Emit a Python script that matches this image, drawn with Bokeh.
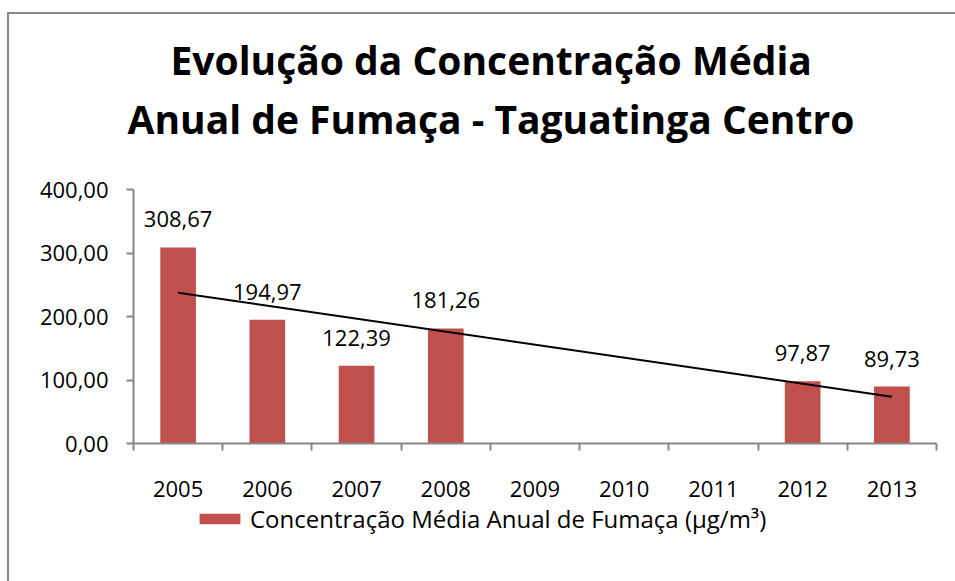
import numpy as np
from bokeh.plotting import figure
from bokeh.layouts import column
from bokeh.models import (FixedTicker, Title, Legend, LegendItem,
                          ColumnDataSource, Range1d)
from bokeh.embed import file_html
from bokeh.resources import INLINE

# ---- data ----
years = ["2005", "2006", "2007", "2008", "2009", "2010", "2011", "2012", "2013"]
concentration = [308.67, 194.97, 122.39, 181.26, None, None, None, 97.87, 89.73]
y_ticks = [0, 100, 200, 300, 400]
y_tick_labels = ["0,00", "100,00", "200,00", "300,00", "400,00"]
title_lines = ["Evolução da Concentração Média", "Anual de Fumaça - Taguatinga Centro"]
series_name = "Concentração Média Anual de Fumaça (µg/m³)"

FONT = "Open Sans"
BAR = "#C0504D"
AXIS = "#868686"
W = 946

centers = [i + 0.5 for i in range(len(years))]
bx = [c for c, v in zip(centers, concentration) if v is not None]
bv = [v for v in concentration if v is not None]
blab = [f"{v:.2f}".replace(".", ",") for v in bv]
src = ColumnDataSource(dict(x=bx, top=bv, lab=blab))

# linear trend over the plotted (non-empty) points, like Excel's trendline
k = np.array([i + 1 for i, v in enumerate(concentration) if v is not None], float)
slope, icpt = np.polyfit(k, np.array(bv), 1)
tx = [centers[0], centers[-1]]
ty = [slope * 1 + icpt, slope * len(years) + icpt]

p = figure(width=W, height=487, x_range=Range1d(0, len(years)),
           y_range=Range1d(0, 400), output_backend="svg",
           toolbar_location=None, title=None,
           min_border_left=124, min_border_right=19,
           min_border_top=175, min_border_bottom=58)
p.outline_line_color = None
p.xgrid.visible = False
p.ygrid.visible = False

bars = p.vbar(x="x", top="top", width=0.4, source=src, fill_color=BAR, line_color=None)
p.line(tx, ty, line_color="black", line_width=2)
p.text(x="x", y="top", text="lab", source=src, text_align="center",
       text_baseline="alphabetic", y_offset=-28, text_font={"value": FONT},
       text_font_size="22px", text_color="black")

# axes
p.yaxis.ticker = FixedTicker(ticks=y_ticks)
p.yaxis.major_label_overrides = dict(zip(y_ticks, y_tick_labels))
p.yaxis.major_tick_out = 7
p.yaxis.major_tick_in = 0
p.yaxis.minor_tick_out = 0
p.yaxis.minor_tick_in = 0
p.yaxis.major_label_standoff = 18
p.xaxis.ticker = FixedTicker(ticks=centers, minor_ticks=list(range(len(years) + 1)))
p.xaxis.major_label_overrides = dict(zip(centers, years))
p.xaxis.major_tick_out = 0
p.xaxis.major_tick_in = 0
p.xaxis.minor_tick_out = 7
p.xaxis.minor_tick_in = 0
p.xaxis.major_label_standoff = 30
for ax in (p.xaxis, p.yaxis):
    ax.axis_line_color = AXIS
    ax.axis_line_width = 2
    ax.major_tick_line_color = AXIS
    ax.major_tick_line_width = 2
    ax.minor_tick_line_color = AXIS
    ax.minor_tick_line_width = 2
    ax.major_label_text_font = FONT
    ax.major_label_text_font_size = "22px"
    ax.major_label_text_color = "black"

# titles (first added sits closest to the frame); a blank spacer keeps them up
spacer = Title(text=" ", text_font_size="1px", standoff=38)
t2 = Title(text=title_lines[1], align="left", text_font=FONT, text_font_size="39px",
           text_font_style="bold", text_color="black", standoff=8, offset=-6)
t1 = Title(text=title_lines[0], align="left", text_font=FONT, text_font_size="39px",
           text_font_style="bold", text_color="black", standoff=0, offset=37)
p.add_layout(spacer, "above")
p.add_layout(t2, "above")
p.add_layout(t1, "above")

# legend strip under the chart (its swatch renderer lies outside the visible range)
pl = figure(width=W, height=80, x_range=Range1d(0, len(years)), y_range=Range1d(1000, 1001),
            output_backend="svg", toolbar_location=None, title=None,
            x_axis_location=None, y_axis_location=None, min_border=0)
pl.outline_line_color = None
pl.grid.visible = False
swatch = pl.vbar(x="x", top="top", width=0.4, source=src, fill_color=BAR, line_color=None)
legend = Legend(items=[LegendItem(label=series_name, renderers=[swatch], index=0)],
                location=(61, 46), orientation="horizontal",
                border_line_color=None, background_fill_alpha=0,
                label_text_font=FONT, label_text_font_size="24px",
                label_text_color="black",
                glyph_width=51, glyph_height=13, label_standoff=5,
                padding=2, margin=0, spacing=0)
pl.add_layout(legend, "center")

page = column(p, pl, spacing=0)
page.styles = {"margin-left": "7px", "margin-top": "12px",
               "border-left": "2px solid #898989", "border-top": "2px solid #898989"}

open("out.html", "w").write(file_html(page, INLINE))
